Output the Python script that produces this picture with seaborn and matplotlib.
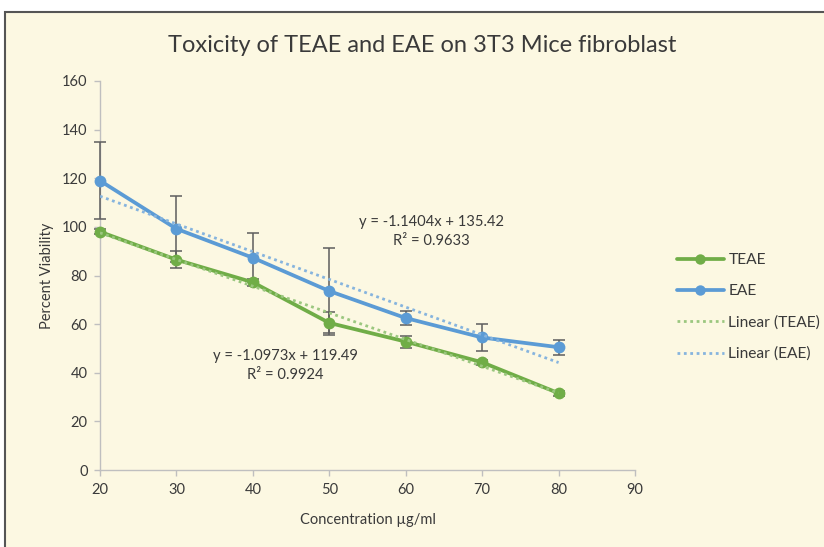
import numpy as np
import pandas as pd
import seaborn as sns
import matplotlib
matplotlib.use("Agg")
import matplotlib.pyplot as plt
from matplotlib.patches import Rectangle
from matplotlib.lines import Line2D

# ---- data ----
concentration = [20, 30, 40, 50, 60, 70, 80]
teae_viability = [98.0, 86.5, 77.2, 60.5, 52.8, 44.3, 31.6]
eae_viability = [119.0, 99.2, 87.3, 73.6, 62.5, 54.5, 50.5]
teae_err = [1.0, 3.4, 1.5, 4.3, 2.5, 1.0, 1.0]
eae_err = [15.8, 13.6, 10.0, 17.9, 2.7, 5.5, 3.1]
series_names = ["TEAE", "EAE"]
trend_slope = [-1.0973, -1.1404]
trend_intercept = [119.49, 135.42]
trend_labels = ["y = -1.0973x + 119.49\nR² = 0.9924", "y = -1.1404x + 135.42\nR² = 0.9633"]
x_ticks = [20, 30, 40, 50, 60, 70, 80, 90]
y_ticks = [0, 20, 40, 60, 80, 100, 120, 140, 160]
title = "Toxicity of TEAE and EAE on 3T3 Mice fibroblast"
x_label = "Concentration µg/ml"
y_label = "Percent Viability"

df = pd.DataFrame({
    "Concentration": concentration * 2,
    "Viability": teae_viability + eae_viability,
    "Series": [series_names[0]] * 7 + [series_names[1]] * 7,
})

sns.set_theme(style="white")
plt.rcParams["font.family"] = ["Lato", "DejaVu Sans"]

BG = "#FCF8E2"
TXT = "#3A3A3A"
colors = {"TEAE": "#70AD47", "EAE": "#5B9BD5"}
trend_colors = ["#9BC77F", "#86B4DE"]

fig = plt.figure(figsize=(8.24, 5.47), dpi=100)
fig.patch.set_facecolor("white")
fig.patches.append(Rectangle((5 / 824, -0.05), 1.2, 1 - 12 / 547 + 0.05,
                             transform=fig.transFigure, facecolor=BG,
                             edgecolor="#555555", linewidth=1.5, zorder=-5))

ax = fig.add_axes([100 / 824, 1 - 470 / 547, 535 / 824, (470 - 81) / 547])
ax.set_zorder(2)
ax.patch.set_alpha(0)

# error bars
for vals, errs in [(teae_viability, teae_err), (eae_viability, eae_err)]:
    eb = ax.errorbar(concentration, vals, yerr=errs, fmt="none", ecolor="#5E5E5E",
                     elinewidth=1.1, capsize=4, capthick=1.1, zorder=2.7)
    for art in list(eb.lines[1]) + list(eb.lines[2]):
        art.set_clip_on(False)

sns.lineplot(data=df, x="Concentration", y="Viability", hue="Series",
             palette=colors, marker="o", markersize=8.5, markeredgewidth=0,
             linewidth=2.7, ax=ax, zorder=3, legend=False, clip_on=False)

# trendlines from the displayed equations
xs = np.array([concentration[0], concentration[-1]])
for i in range(2):
    ax.plot(xs, trend_slope[i] * xs + trend_intercept[i], linestyle=(0, (1, 1.3)),
            color=trend_colors[i], linewidth=2.0, zorder=4)

ax.set_xlim(20, 90)
ax.set_ylim(0, 160)
ax.set_xticks(x_ticks)
ax.set_yticks(y_ticks)
for s in ["top", "right"]:
    ax.spines[s].set_visible(False)
for s in ["left", "bottom"]:
    ax.spines[s].set_color("#BFBFBF")
    ax.spines[s].set_linewidth(1.0)
    ax.spines[s].set_zorder(1)
ax.tick_params(axis="both", which="both", direction="out", length=4, width=1,
               color="#BFBFBF", labelsize=10.5, labelcolor=TXT, pad=5, bottom=True, left=True)
ax.set_xlabel(x_label, fontsize=10.5, color=TXT, labelpad=12)
ax.set_ylabel(y_label, fontsize=10.5, color=TXT, labelpad=6)

fig.text(0.5 * (170 + 675) / 824, 1 - 45 / 547, title, ha="center", va="center",
         fontsize=17, color=TXT)

# equation labels (positions in data coords)
ax.text(20 + (285 - 100) / 76.4 * 10, (470 - 366) / 2.43, trend_labels[0], ha="center",
        va="center", fontsize=10.6, color=TXT, linespacing=1.45)
ax.text(20 + (431 - 100) / 76.4 * 10, (470 - 232) / 2.43, trend_labels[1], ha="center",
        va="center", fontsize=10.6, color=TXT, linespacing=1.45)

# legend
handles = [
    Line2D([], [], color=colors["TEAE"], marker="o", markersize=7.5, markeredgewidth=0, linewidth=2.7),
    Line2D([], [], color=colors["EAE"], marker="o", markersize=7.5, markeredgewidth=0, linewidth=2.7),
    Line2D([], [], color=trend_colors[0], linestyle=(0, (1, 1.3)), linewidth=2.0),
    Line2D([], [], color=trend_colors[1], linestyle=(0, (1, 1.3)), linewidth=2.0),
]
labels = ["TEAE", "EAE", "Linear (TEAE)", "Linear (EAE)"]
fig.legend(handles, labels, loc="upper left", bbox_to_anchor=(663 / 824, 1 - 239 / 547),
           frameon=False, fontsize=11.2, labelcolor=TXT, handlelength=3.0,
           handletextpad=0.3, labelspacing=1.1, numpoints=1)

fig.savefig("out.png", dpi=100, facecolor=fig.get_facecolor())
